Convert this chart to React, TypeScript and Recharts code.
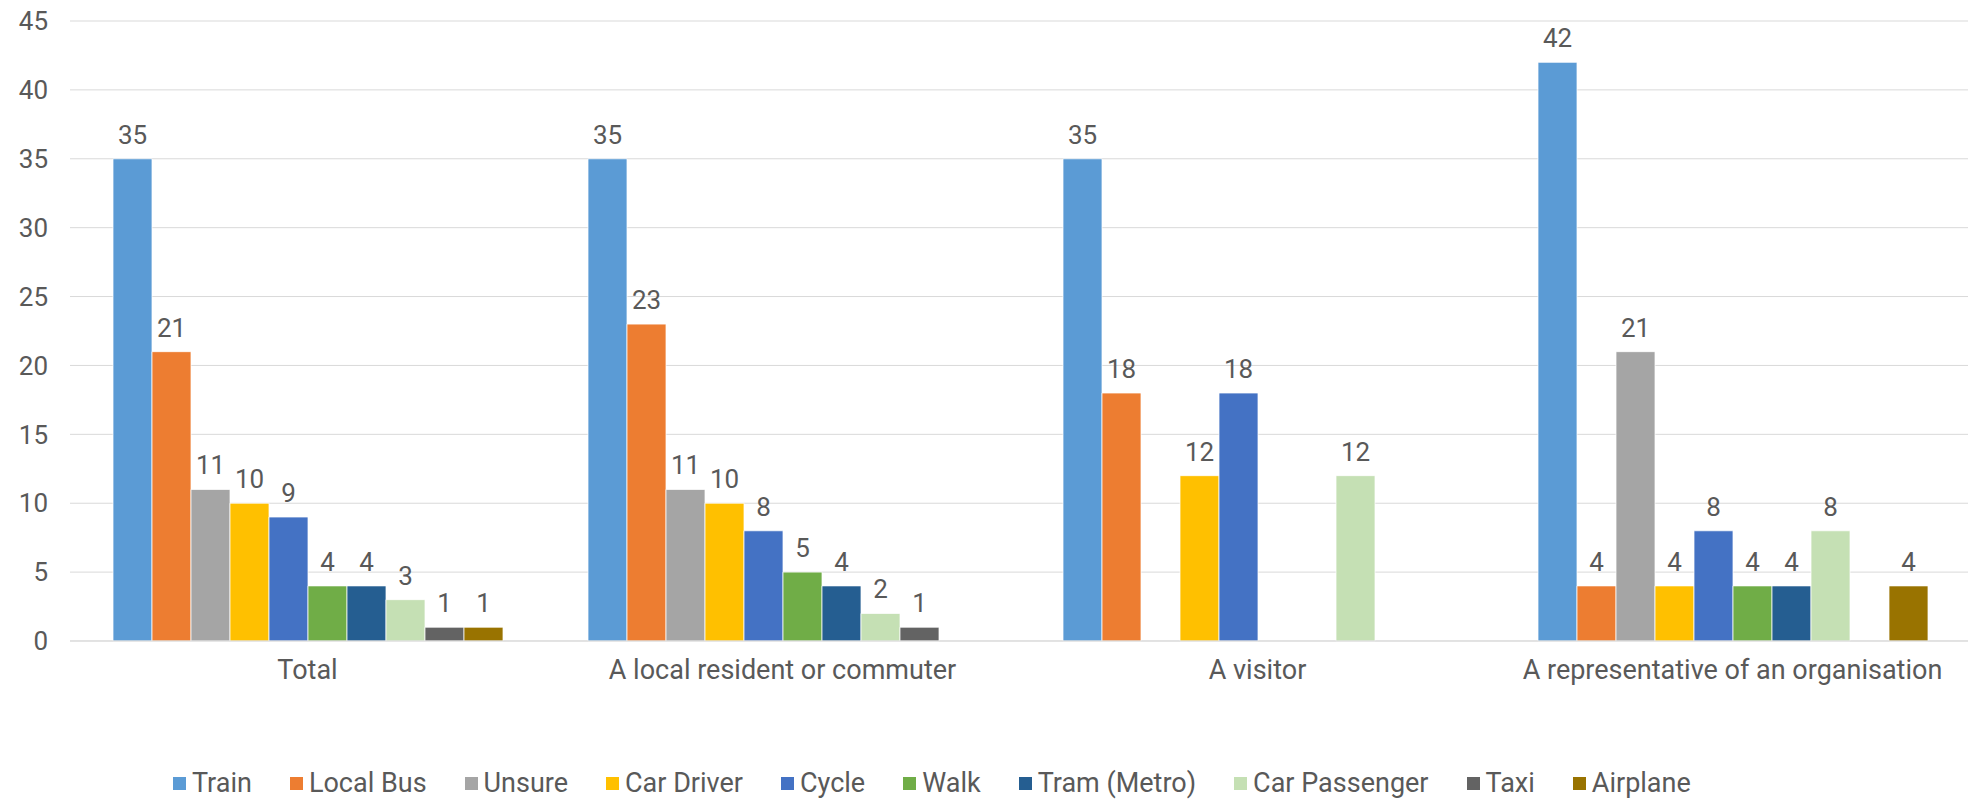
import { BarChart, Bar, XAxis, YAxis, CartesianGrid, Legend, LabelList } from 'recharts'

const categories = [
  'Total',
  'A local resident or commuter',
  'A visitor',
  'A representative of an organisation',
]

// null = no response in that group (no bar, no label)
const train = [35, 35, 35, 42]
const localBus = [21, 23, 18, 4]
const unsure = [11, 11, null, 21]
const carDriver = [10, 10, 12, 4]
const cycle = [9, 8, 18, 8]
const walk = [4, 5, null, 4]
const tram = [4, 4, null, 4]
const carPassenger = [3, 2, 12, 8]
const taxi = [1, 1, null, null]
const airplane = [1, null, null, 4]

const yTicks = [0, 5, 10, 15, 20, 25, 30, 35, 40, 45]

const series = [
  { key: 'train', name: 'Train', color: '#5B9BD5', values: train },
  { key: 'localBus', name: 'Local Bus', color: '#ED7D31', values: localBus },
  { key: 'unsure', name: 'Unsure', color: '#A5A5A5', values: unsure },
  { key: 'carDriver', name: 'Car Driver', color: '#FFC000', values: carDriver },
  { key: 'cycle', name: 'Cycle', color: '#4472C4', values: cycle },
  { key: 'walk', name: 'Walk', color: '#70AD47', values: walk },
  { key: 'tram', name: 'Tram (Metro)', color: '#255E91', values: tram },
  { key: 'carPassenger', name: 'Car Passenger', color: '#C5E0B4', values: carPassenger },
  { key: 'taxi', name: 'Taxi', color: '#636363', values: taxi },
  { key: 'airplane', name: 'Airplane', color: '#997300', values: airplane },
]

const data = categories.map((category, i) => {
  const row: Record<string, string | number | null> = { category }
  series.forEach((s) => {
    row[s.key] = s.values[i]
  })
  return row
})

const textColor = '#595959'
const gridColor = '#D9D9D9'

function ValueLabel(props: any) {
  const { x, y, width, value } = props
  if (value === null || value === undefined) return null
  return (
    <text
      x={x + width / 2}
      y={y - 15}
      textAnchor="middle"
      fill={textColor}
      fontSize={26}
    >
      {value}
    </text>
  )
}

// legend keeps the series order (recharts would sort it by name)
function LegendContent() {
  return (
    <div
      style={{
        height: 50,
        boxSizing: 'border-box',
        paddingTop: 18,
        paddingLeft: 173,
        display: 'flex',
        alignItems: 'center',
        lineHeight: '32px',
        fontSize: 27,
        color: textColor,
        whiteSpace: 'nowrap',
      }}
    >
      {series.map((s) => (
        <div key={s.key} style={{ display: 'flex', alignItems: 'center', marginRight: 38 }}>
          <span style={{ width: 13, height: 13, background: s.color, marginRight: 6, display: 'inline-block' }} />
          <span>{s.name}</span>
        </div>
      ))}
    </div>
  )
}

export default function App() {
  return (
    <div
      style={{
        position: 'absolute',
        left: 0,
        top: 0,
        width: 1968,
        height: 799,
        overflow: 'hidden',
        background: '#fff',
        fontFamily: 'Roboto, sans-serif',
      }}
    >
      <BarChart
        width={1970}
        height={799}
        data={data}
        margin={{ top: 21, right: 0, bottom: 0, left: 0 }}
        barCategoryGap={43}
        barGap={0}
      >
        <CartesianGrid vertical={false} stroke={gridColor} />
        <XAxis
          dataKey="category"
          height={108}
          interval={0}
          tickLine={false}
          tickSize={0}
          tickMargin={19}
          axisLine={{ stroke: gridColor }}
          tick={{ fill: textColor, fontSize: 27 }}
        />
        <YAxis
          width={70}
          domain={[0, 45]}
          ticks={yTicks}
          axisLine={false}
          tickLine={false}
          tickSize={0}
          tickMargin={22}
          tick={{ fill: textColor, fontSize: 26 }}
        />
        <Legend verticalAlign="bottom" align="left" content={<LegendContent />} />
        {series.map((s) => (
          <Bar
            key={s.key}
            dataKey={s.key}
            name={s.name}
            fill={s.color}
            stroke="#ffffff"
            strokeWidth={0.75}
            isAnimationActive={false}
          >
            <LabelList dataKey={s.key} content={<ValueLabel />} />
          </Bar>
        ))}
      </BarChart>
    </div>
  )
}
